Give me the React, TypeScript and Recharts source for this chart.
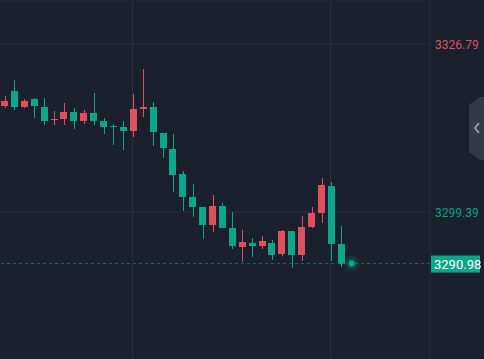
import { Bar, ComposedChart, ReferenceDot, ReferenceLine, XAxis, YAxis, CartesianGrid } from 'recharts'

// candle OHLC (red = close above open, green = close below)
const opens = [3316.68, 3319.17, 3316.52, 3317.82, 3316.52, 3314.5, 3314.56, 3315.7, 3314.23, 3315.54, 3314.23, 3313.42, 3313.25, 3312.6, 3316.19, 3316.52, 3312.27, 3309.66, 3305.59, 3301.84, 3300.21, 3297.27, 3300.37, 3296.78, 3293.68, 3294.33, 3293.84, 3294.33, 3292.54, 3296.29, 3292.38, 3296.94, 3299.23, 3303.63, 3294.17]
const highs = [3318.31, 3320.92, 3317.82, 3317.98, 3317.98, 3315.86, 3317.17, 3316.35, 3316.03, 3318.8, 3314.72, 3313.74, 3314.23, 3318.64, 3322.71, 3317.33, 3312.27, 3312.11, 3306.08, 3303.96, 3300.21, 3302.16, 3300.86, 3299.39, 3296.45, 3295.15, 3295.48, 3294.82, 3296.45, 3296.29, 3298.74, 3300.21, 3304.94, 3304.28, 3297.11]
const lows = [3316.35, 3316.03, 3316.35, 3314.72, 3313.58, 3313.58, 3313.58, 3312.93, 3313.74, 3313.58, 3312.11, 3310.32, 3309.5, 3311.62, 3314.88, 3310.15, 3308.2, 3302.65, 3299.55, 3298.58, 3294.99, 3296.13, 3296.78, 3293.36, 3291.24, 3292.05, 3293.36, 3291.56, 3292.21, 3290.26, 3291.4, 3296.78, 3297.6, 3291.4, 3290.42]
const closes = [3317.49, 3316.52, 3317.54, 3316.73, 3314.23, 3314.56, 3315.7, 3314.23, 3315.54, 3314.23, 3313.25, 3313.25, 3312.6, 3316.19, 3316.52, 3312.44, 3309.83, 3305.42, 3301.84, 3300.21, 3297.27, 3300.37, 3296.78, 3293.84, 3294.5, 3293.84, 3294.66, 3292.38, 3296.29, 3292.38, 3296.94, 3299.23, 3303.79, 3294.17, 3290.98]

const priceTicks = [3326.79, 3299.39]
const lastPrice = 3290.98
const timeMarks = [13, 33]
const slots = 43

const BG = '#1b202d'
const GRID = '#272e3d'
const RED = '#e04f5e'
const GREEN = '#0ca68a'

const data = Array.from({ length: slots }, (_, i) =>
  i < opens.length
    ? { i, open: opens[i], high: highs[i], low: lows[i], close: closes[i] }
    : { i, open: null, high: null, low: null, close: null },
)

function Candle(props: any) {
  const { x, y, width, height, payload } = props
  if (!payload || payload.high == null) return null
  const top = Math.min(y, y + height)
  const h = Math.abs(height)
  const range = payload.high - payload.low || 1
  const toY = (v: number) => top + ((payload.high - v) / range) * h
  const color = payload.close >= payload.open ? RED : GREEN
  const yo = toY(payload.open)
  const yc = toY(payload.close)
  const bodyTop = Math.min(yo, yc)
  const bodyH = Math.max(1, Math.abs(yo - yc))
  const cx = Math.round(x + width / 2) + 0.5
  return (
    <g>
      <line x1={cx} x2={cx} y1={top} y2={top + h} stroke={color} strokeWidth={1} />
      <rect x={Math.round(x)} y={bodyTop} width={7} height={bodyH} fill={color} shapeRendering="crispEdges" />
    </g>
  )
}

// bar background column, used to draw the two vertical time grid lines under the candles
function TimeGridLine(props: any) {
  const { x, y, width, height, payload, index } = props
  const i = payload?.i ?? index
  if (!timeMarks.includes(i)) return null
  const cx = Math.round(x + width / 2) - 0.5
  return <line x1={cx} x2={cx} y1={y} y2={y + height} stroke={GRID} strokeWidth={1} />
}

function PriceTick(props: any) {
  const { x, y, payload } = props
  const color = payload.value === priceTicks[0] ? '#d9505c' : '#0e9f85'
  return (
    <text x={x - 3} y={y} dy={5} fill={color} fontSize={12} fontFamily="Roboto" textAnchor="start">
      {payload.value.toFixed(2)}
    </text>
  )
}

function LastLabel(props: any) {
  const vb = props.viewBox
  if (!vb) return null
  const bx = vb.x + vb.width + 1
  return (
    <g>
      <rect x={bx} y={vb.y - 8} width={49} height={17} fill={GREEN} />
      <text x={bx + 3} y={vb.y + 5} fill="#ffffff" fontSize={13} fontFamily="Roboto">
        {lastPrice.toFixed(2)}
      </text>
    </g>
  )
}

function GlowDot(props: any) {
  const { cx, cy } = props
  return (
    <g>
      <circle cx={cx} cy={cy} r={8} fill={GREEN} opacity={0.12} />
      <circle cx={cx} cy={cy} r={5} fill={GREEN} opacity={0.25} />
      <circle cx={cx} cy={cy} r={3} fill={GREEN} />
    </g>
  )
}

export default function App() {
  return (
    <div style={{ position: 'fixed', left: 0, top: 0, width: 484, height: 359, background: BG, overflow: 'hidden' }}>
      <ComposedChart width={484} height={359} data={data} margin={{ top: 0, right: 0, bottom: 0, left: 0 }}>
        <CartesianGrid stroke={GRID} vertical={false} />
        <XAxis dataKey="i" hide padding={{ left: 0, right: 4 }} />
        <YAxis
          orientation="right"
          width={54}
          domain={[3275.41, 3333.97]}
          allowDataOverflow
          ticks={priceTicks}
          tick={<PriceTick />}
          tickLine={false}
          axisLine={{ stroke: GRID }}
        />
        <ReferenceLine
          y={lastPrice}
          stroke="#17695e"
          strokeDasharray="3 3"
          label={<LastLabel />}
        />
        <Bar
          dataKey={(d: any) => (d.high == null ? null : [d.low, d.high])}
          barSize={7}
          shape={<Candle />}
          background={<TimeGridLine />}
          isAnimationActive={false}
        />
        <ReferenceDot x={opens.length} y={lastPrice} shape={<GlowDot />} />
      </ComposedChart>
      <svg width={484} height={359} style={{ position: 'absolute', left: 0, top: 0, pointerEvents: 'none' }}>
        <polygon points="469,105 480,97 484,97 484,160 480,160 469,152" fill="#323947" />
        <polyline points="479,123 475,128 479,133" fill="none" stroke="#a3a9b5" strokeWidth={1.6} />
      </svg>
    </div>
  )
}
